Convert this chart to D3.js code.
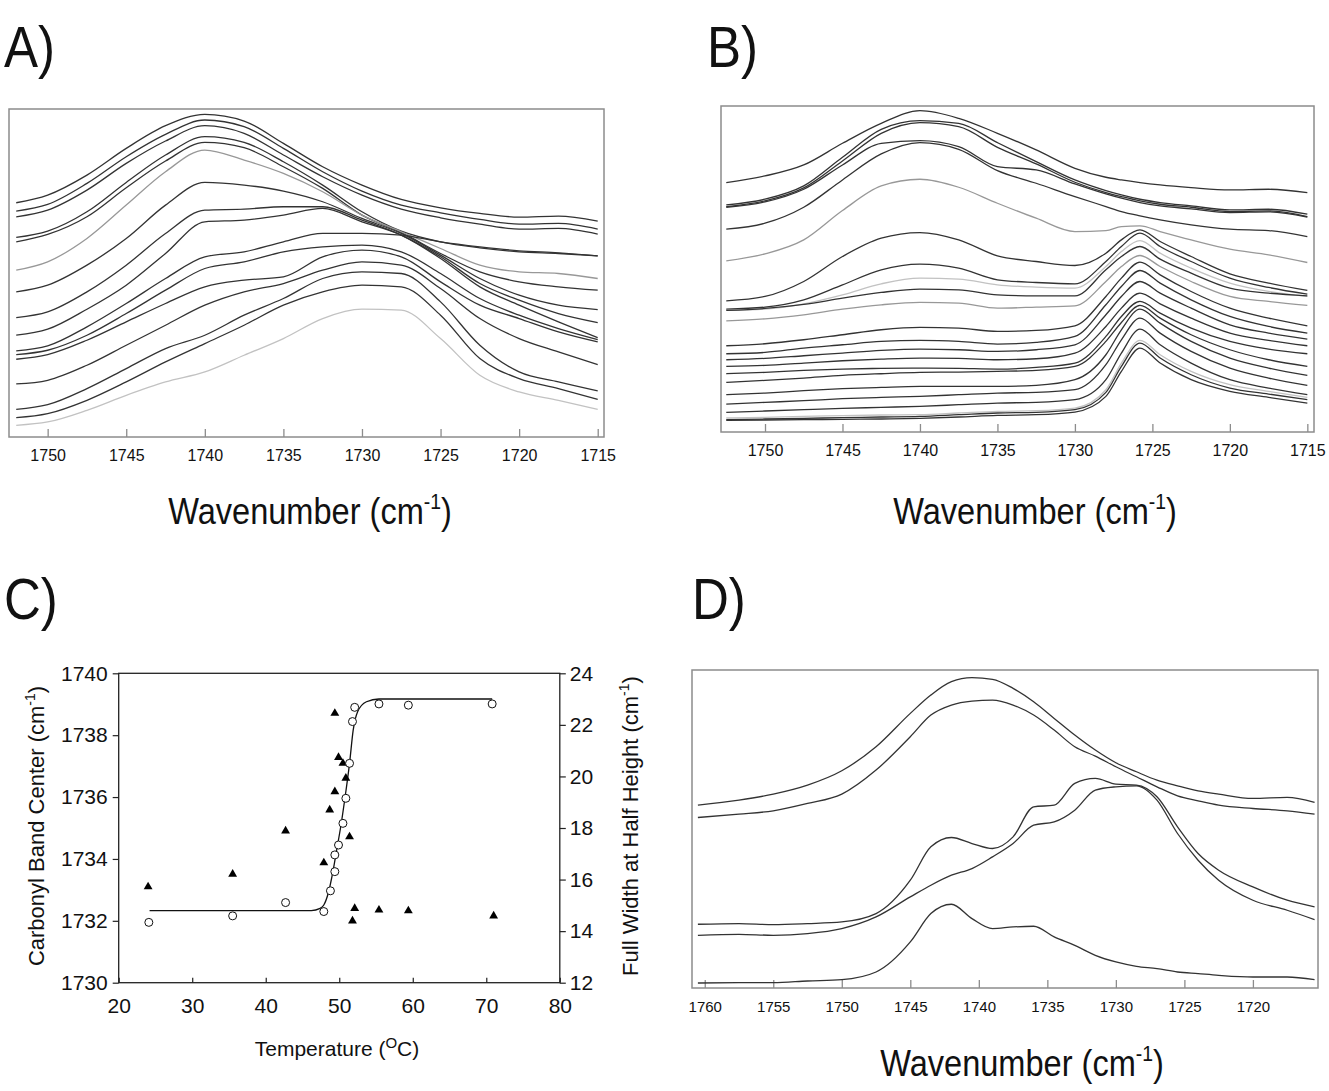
<!DOCTYPE html>
<html lang="en">
<head>
<meta charset="UTF-8">
<title>Carbonyl band FTIR spectra</title>
<style>
  body { margin: 0; background: #fff; }
  svg text { font-family: "Liberation Sans", Arial, sans-serif; fill: #111; }
  .frame { fill: none; stroke: #8c8c8c; stroke-width: 1.5; }
  .frameC { fill: none; stroke: #222; stroke-width: 1.3; }
  .spec { fill: none; stroke-width: 1.3; }
</style>
<script src="https://d3js.org/d3.v7.min.js"></script>
</head>
<body>
<script>
// ---- panel A : spectra, heating series ----
const wnA = [1752, 1750, 1747.5, 1745, 1742.5, 1740, 1737.5, 1735, 1732.5, 1730, 1727.5, 1725, 1722.5, 1720, 1717.5, 1715];
const absA = [
  [70.2, 72.5, 78.5, 86.5, 93.3, 96.7, 94.7, 88.0, 81.0, 75.5, 71.2, 68.7, 67.0, 65.9, 66.2, 64.7],
  [67.7, 69.7, 76.0, 84.0, 90.7, 95.0, 93.0, 86.5, 79.5, 73.7, 69.5, 67.2, 65.2, 63.8, 64.0, 62.3],
  [66.0, 68.0, 74.0, 82.0, 88.7, 93.3, 91.0, 84.5, 78.0, 72.5, 68.3, 65.7, 63.8, 62.3, 62.5, 60.8],
  [59.8, 61.7, 67.5, 76.3, 84.5, 90.0, 88.3, 82.5, 75.5, 67.5, 61.7, 58.5, 56.7, 55.5, 55.0, 54.3],
  [58.5, 60.7, 66.0, 74.7, 82.7, 88.3, 86.7, 81.0, 74.5, 66.5, 61.3, 55.0, 49.5, 46.5, 45.0, 44.0],
  [50.0, 52.5, 59.5, 69.5, 79.5, 86.0, 83.0, 79.0, 73.5, 66.5, 61.5, 56.5, 51.5, 49.5, 49.0, 47.5],
  [43.5, 45.5, 51.5, 59.5, 69.5, 76.3, 75.5, 73.7, 70.5, 65.5, 61.0, 54.5, 47.5, 42.5, 39.5, 38.2],
  [35.8, 37.5, 43.5, 51.5, 61.0, 68.0, 68.3, 69.0, 69.0, 65.0, 60.5, 54.0, 46.0, 41.0, 37.0, 34.3],
  [30.5, 32.3, 38.3, 45.5, 55.0, 64.5, 65.0, 66.5, 68.5, 64.5, 60.5, 53.5, 45.0, 39.5, 34.5, 29.8],
  [25.8, 27.3, 33.0, 40.0, 47.5, 54.0, 55.5, 58.5, 61.0, 61.0, 60.5, 58.5, 57.0, 55.8, 55.2, 54.3],
  [24.7, 26.0, 30.5, 37.0, 44.0, 50.5, 52.5, 55.5, 57.0, 57.5, 55.5, 49.0, 41.5, 36.5, 32.5, 29.2],
  [23.3, 24.7, 29.0, 34.5, 40.0, 45.0, 47.0, 48.0, 54.0, 56.0, 54.0, 46.5, 39.5, 35.5, 31.5, 28.5],
  [15.9, 17.0, 21.5, 27.5, 33.5, 39.5, 43.5, 46.0, 50.0, 52.5, 51.5, 44.5, 35.5, 29.5, 25.5, 21.7],
  [8.3, 9.7, 14.5, 20.5, 26.5, 30.5, 36.5, 41.5, 47.5, 49.5, 49.0, 40.5, 27.5, 19.5, 16.5, 13.8],
  [5.8, 7.0, 11.0, 16.5, 22.5, 28.0, 33.5, 39.5, 43.5, 45.5, 45.0, 36.5, 23.5, 17.5, 14.5, 11.3],
  [3.5, 4.5, 8.0, 12.5, 16.5, 19.5, 24.5, 29.5, 35.5, 38.3, 38.0, 29.5, 18.5, 13.5, 11.0, 8.3]
];
const greyA = [5];
const lightA = [15];
const ticksA = [1750, 1745, 1740, 1735, 1730, 1725, 1720, 1715];

// ---- panel B : spectra, second series ----
const wnB = [1752.5, 1750, 1747.5, 1745, 1742.5, 1740, 1737.5, 1735, 1732.5, 1730, 1728, 1727, 1725.8, 1724.5, 1722.5, 1720, 1717.5, 1715];
const absB = [
  [74.9, 76.9, 80.2, 86.7, 92.7, 96.5, 94.2, 89.7, 84.7, 79.2, 76.5, 75.7, 74.9, 74.2, 73.4, 72.7, 72.9, 71.9],
  [68.2, 69.9, 73.9, 82.5, 90.9, 93.5, 92.7, 86.9, 81.2, 75.7, 72.5, 71.2, 69.9, 68.9, 67.9, 66.7, 66.9, 65.4],
  [67.7, 69.4, 73.3, 81.4, 89.7, 92.9, 91.7, 85.5, 80.5, 75.0, 71.9, 70.7, 69.4, 68.4, 67.5, 66.2, 66.4, 64.7],
  [67.5, 69.1, 72.9, 80.2, 86.7, 87.5, 85.7, 79.7, 78.7, 74.5, 71.5, 70.2, 68.9, 67.9, 67.0, 65.9, 66.1, 64.5],
  [60.9, 62.7, 67.5, 75.7, 83.5, 86.9, 84.9, 78.5, 74.7, 70.7, 67.7, 66.2, 64.9, 63.7, 62.2, 60.9, 60.5, 58.7],
  [51.4, 53.5, 57.7, 66.5, 73.9, 75.9, 73.5, 68.7, 64.2, 60.2, 60.5, 61.7, 61.9, 60.2, 57.7, 54.9, 53.2, 50.9],
  [39.4, 40.7, 45.2, 52.7, 58.2, 59.9, 57.7, 52.9, 51.2, 50.0, 53.7, 57.7, 60.7, 57.2, 52.7, 47.5, 44.7, 42.5],
  [36.9, 37.5, 39.7, 44.2, 48.7, 50.4, 49.2, 45.7, 44.9, 44.5, 51.2, 55.7, 59.7, 55.7, 51.2, 46.2, 43.4, 41.4],
  [36.5, 36.9, 38.5, 41.2, 44.5, 46.2, 45.9, 44.2, 43.5, 43.2, 49.7, 54.2, 57.5, 53.7, 49.2, 44.7, 42.2, 40.7],
  [36.5, 37.1, 38.3, 40.2, 41.9, 42.9, 42.7, 41.2, 40.9, 40.9, 48.7, 52.7, 55.7, 51.9, 47.7, 43.2, 41.7, 40.9],
  [33.4, 34.0, 35.2, 36.9, 38.2, 38.9, 38.7, 37.2, 37.5, 37.9, 45.2, 49.7, 53.0, 49.7, 45.2, 40.7, 39.2, 38.0],
  [25.9, 26.5, 27.7, 29.2, 30.7, 31.4, 31.2, 30.2, 30.5, 31.9, 40.7, 46.2, 51.0, 47.2, 42.2, 37.2, 34.2, 31.9],
  [23.5, 23.9, 25.2, 26.2, 27.2, 27.5, 27.2, 26.4, 26.9, 28.7, 38.2, 43.7, 48.5, 44.7, 39.7, 34.7, 31.7, 29.7],
  [21.7, 22.1, 22.9, 23.7, 24.5, 24.9, 24.7, 24.2, 24.7, 26.2, 35.2, 40.7, 45.2, 41.7, 37.2, 32.2, 29.7, 27.9],
  [19.7, 20.0, 20.7, 21.4, 21.9, 22.2, 22.1, 21.7, 22.0, 23.7, 31.7, 37.2, 41.7, 38.5, 34.2, 29.7, 27.5, 25.9],
  [17.5, 17.9, 18.5, 18.9, 19.1, 19.2, 19.1, 18.9, 19.4, 20.7, 28.7, 34.7, 39.2, 35.7, 31.2, 27.2, 24.9, 23.5],
  [14.9, 15.5, 16.2, 17.0, 17.5, 17.9, 18.0, 18.2, 18.5, 19.7, 27.2, 32.9, 38.0, 34.2, 29.2, 24.7, 21.7, 19.7],
  [11.2, 11.7, 12.4, 13.0, 13.4, 13.7, 13.7, 13.7, 14.0, 15.7, 23.2, 30.7, 36.9, 32.7, 27.2, 22.2, 19.2, 17.0],
  [8.4, 8.9, 9.4, 10.0, 10.4, 10.7, 11.2, 11.7, 11.9, 12.7, 20.2, 27.7, 34.2, 29.7, 24.2, 19.2, 16.2, 14.0],
  [5.9, 6.3, 6.7, 7.1, 7.4, 7.7, 8.2, 8.7, 8.9, 9.7, 15.7, 23.7, 30.9, 26.2, 20.7, 15.7, 13.2, 11.2],
  [4.2, 4.4, 4.7, 4.9, 5.1, 5.2, 5.7, 6.2, 6.4, 7.2, 12.7, 20.7, 27.5, 23.2, 18.2, 14.2, 12.2, 10.4],
  [3.7, 3.9, 4.1, 4.3, 4.5, 4.7, 5.2, 5.7, 5.9, 6.7, 11.9, 19.7, 26.7, 22.2, 17.2, 13.2, 11.4, 9.7],
  [3.5, 3.6, 3.7, 3.8, 3.9, 4.1, 4.5, 5.0, 5.2, 6.0, 10.7, 18.2, 25.2, 20.7, 15.7, 12.2, 10.4, 8.7]
];
const greyB = [5, 10];
const lightB = [8, 20];
const ticksB = [1750, 1745, 1740, 1735, 1730, 1725, 1720, 1715];

// ---- panel C : band centre and width vs temperature ----
const circT = [24.1, 35.5, 42.7, 47.9, 48.8, 49.4, 49.4, 49.9, 50.5, 50.9, 51.4, 51.8, 52.1, 55.4, 59.4, 70.8];
const circCenter = [1731.95, 1732.16, 1732.59, 1732.3, 1732.97, 1733.59, 1734.13, 1734.45, 1735.15, 1735.96, 1737.09, 1738.44, 1738.9, 1739.01, 1738.97, 1739.01];
const triT = [24.0, 35.5, 42.7, 47.9, 48.7, 49.4, 49.4, 49.9, 50.5, 50.9, 51.4, 52.1, 51.8, 55.4, 59.4, 71.0];
const triWidth = [15.72, 16.21, 17.89, 16.65, 18.70, 19.41, 22.45, 20.74, 20.51, 19.93, 17.66, 14.88, 14.40, 14.82, 14.79, 14.59];
const fitT = [24.2, 46.2, 47.4, 47.9, 48.5, 49.1, 49.65, 50.2, 50.8, 51.4, 51.9, 52.5, 53.7, 55.4, 70.8];
const fitCenter = [1732.33, 1732.33, 1732.40, 1732.51, 1732.89, 1733.54, 1734.29, 1735.04, 1736.01, 1737.09, 1738.17, 1738.76, 1739.08, 1739.17, 1739.17];
const ticksTemp = [20, 30, 40, 50, 60, 70, 80];
const ticksCenter = [1730, 1732, 1734, 1736, 1738, 1740];
const ticksWidth = [12, 14, 16, 18, 20, 22, 24];

// ---- panel D : selected spectra ----
const wnD = [1760.5, 1757.5, 1755, 1752.5, 1750, 1747.5, 1745, 1743.5, 1742, 1740.5, 1739, 1737.5, 1736, 1734.5, 1733, 1731.5, 1730, 1728.5, 1727, 1725.5, 1724, 1722.5, 1720, 1717.5, 1715.5];
const absD = [
  [54.8, 56.3, 58.1, 60.8, 65.1, 72.3, 82.3, 87.8, 91.8, 93.0, 92.5, 89.8, 85.8, 80.8, 75.8, 71.3, 67.5, 64.8, 62.3, 60.6, 59.1, 58.1, 56.8, 57.1, 55.6],
  [51.1, 52.1, 53.1, 55.3, 58.1, 65.3, 75.3, 81.8, 84.8, 86.0, 86.3, 84.8, 81.8, 77.3, 72.3, 69.5, 66.3, 63.3, 60.3, 57.6, 56.1, 54.8, 53.8, 53.1, 52.1],
  [19.1, 19.3, 19.0, 19.3, 19.8, 22.3, 32.3, 42.3, 45.1, 43.3, 41.8, 45.3, 54.3, 54.8, 61.3, 62.8, 61.1, 60.8, 57.3, 48.3, 40.3, 35.3, 30.3, 26.3, 24.3],
  [15.8, 16.1, 15.8, 16.3, 17.8, 21.3, 27.3, 30.8, 33.8, 35.8, 39.3, 43.3, 48.8, 49.8, 53.3, 59.3, 60.3, 60.6, 56.3, 46.3, 38.3, 32.3, 26.3, 23.3, 20.5],
  [1.5, 1.6, 1.6, 2.1, 2.5, 4.8, 13.8, 22.3, 25.1, 20.8, 17.8, 18.3, 18.5, 15.3, 12.8, 9.8, 7.8, 6.5, 5.8, 4.8, 4.3, 3.8, 3.3, 3.3, 2.5]
];
const ticksD = [1760, 1755, 1750, 1745, 1740, 1735, 1730, 1725, 1720];

const FONT = "Liberation Sans, Arial, sans-serif";
const svg = d3.select("body").append("svg")
  .attr("width", 1329)
  .attr("height", 1091);

function wavenumberLabel(cx, y) {
  const t = svg.append("text")
    .attr("transform", `translate(${cx},${y}) scale(0.88,1)`)
    .attr("text-anchor", "middle")
    .attr("font-size", 37);
  t.append("tspan").text("Wavenumber (cm");
  t.append("tspan").attr("font-size", 22).attr("dy", -15).text("-1");
  t.append("tspan").attr("dy", 15).text(")");
}

function panelLetter(x, y, s) {
  svg.append("text")
    .attr("transform", `translate(${x},${y}) scale(0.88,1)`)
    .attr("font-size", 58)
    .text(s);
}

function spectraPanel(cfg) {
  const x = d3.scaleLinear().domain(cfg.xDomain).range([cfg.left, cfg.right]);
  const y = d3.scaleLinear().domain(cfg.yDomain).range([cfg.bottom, cfg.top]);

  const ax = svg.append("g")
    .attr("transform", `translate(0,${cfg.bottom})`)
    .call(d3.axisBottom(x)
      .tickValues(cfg.ticks)
      .tickSize(-8)
      .tickSizeOuter(0)
      .tickPadding(cfg.pad)
      .tickFormat(d3.format("d")));
  ax.attr("font-family", FONT).attr("font-size", cfg.fs);
  ax.select(".domain").remove();
  ax.selectAll(".tick line").attr("stroke", "#8c8c8c").attr("stroke-width", 1.3);
  ax.selectAll(".tick text").attr("fill", "#111");

  const line = d3.line()
    .x((d, i) => x(cfg.wn[i]))
    .y(d => y(d))
    .curve(d3.curveMonotoneX);

  // colour of each trace: dark, mid grey or light grey
  const tone = i => cfg.light.includes(i) ? "#c2c2c2" : cfg.grey.includes(i) ? "#989898" : "#333";

  svg.append("g")
    .selectAll("path")
    .data(cfg.data)
    .join("path")
    .attr("class", "spec")
    .style("stroke", (d, i) => tone(i))
    .attr("d", line);

  svg.append("rect")
    .attr("class", "frame")
    .attr("x", cfg.left).attr("y", cfg.top)
    .attr("width", cfg.right - cfg.left)
    .attr("height", cfg.bottom - cfg.top);
}

// A
panelLetter(4, 67, "A)");
spectraPanel({
  wn: wnA, data: absA, grey: greyA, light: lightA, ticks: ticksA,
  xDomain: [1752.46, 1714.6], yDomain: [0, 98.3],
  left: 9, right: 604, top: 109, bottom: 437, pad: 13, fs: 16
});
wavenumberLabel(310, 524);

// B
panelLetter(707, 67, "B)");
spectraPanel({
  wn: wnB, data: absB, grey: greyB, light: lightB, ticks: ticksB,
  xDomain: [1752.84, 1714.57], yDomain: [0, 97.9],
  left: 721, right: 1314, top: 106, bottom: 432, pad: 13, fs: 16
});
wavenumberLabel(1035, 524);

// D
panelLetter(692, 619, "D)");
spectraPanel({
  wn: wnD, data: absD, grey: [], light: [], ticks: ticksD,
  xDomain: [1760.93, 1715.25], yDomain: [0, 95.3],
  left: 692, right: 1318, top: 670, bottom: 988, pad: 13, fs: 15
});
wavenumberLabel(1022, 1076);

// C
panelLetter(4, 619, "C)");
(function () {
  const L = 118.7, R = 559.8, T = 673.3, B = 982.7;
  const x = d3.scaleLinear().domain([20, 80]).range([L, R]);
  const yL = d3.scaleLinear().domain([1730, 1740]).range([B, T]);
  const yR = d3.scaleLinear().domain([12, 24]).range([B, T]);

  const styleAxis = g => {
    g.attr("font-family", FONT).attr("font-size", 21);
    g.select(".domain").remove();
    g.selectAll(".tick line").attr("stroke", "#222").attr("stroke-width", 1.2);
    g.selectAll(".tick text").attr("fill", "#111");
  };

  svg.append("g").attr("transform", `translate(0,${B})`)
    .call(d3.axisBottom(x).tickValues(ticksTemp).tickSize(-5).tickSizeOuter(0).tickPadding(15))
    .call(styleAxis);
  svg.append("g").attr("transform", `translate(${L},0)`)
    .call(d3.axisLeft(yL).tickValues(ticksCenter).tickSize(6).tickSizeOuter(0).tickPadding(5).tickFormat(d3.format("d")))
    .call(styleAxis);
  svg.append("g").attr("transform", `translate(${R},0)`)
    .call(d3.axisRight(yR).tickValues(ticksWidth).tickSize(6).tickSizeOuter(0).tickPadding(4))
    .call(styleAxis);

  svg.append("rect").attr("class", "frameC")
    .attr("x", L).attr("y", T).attr("width", R - L).attr("height", B - T);

  const fit = d3.line()
    .x((d, i) => x(fitT[i]))
    .y(d => yL(d))
    .curve(d3.curveMonotoneX);
  svg.append("path")
    .attr("d", fit(fitCenter))
    .attr("fill", "none").attr("stroke", "#111").attr("stroke-width", 1.3);

  svg.append("g").selectAll("path")
    .data(triWidth)
    .join("path")
    .attr("transform", (d, i) => `translate(${x(triT[i])},${yR(d)})`)
    .attr("d", d3.symbol(d3.symbolTriangle).size(34))
    .attr("fill", "#000");

  svg.append("g").selectAll("circle")
    .data(circCenter)
    .join("circle")
    .attr("cx", (d, i) => x(circT[i]))
    .attr("cy", d => yL(d))
    .attr("r", 4)
    .attr("fill", "#fff")
    .attr("stroke", "#111")
    .attr("stroke-width", 1);

  // axis titles
  const yl = svg.append("text")
    .attr("transform", `translate(44,826) rotate(-90)`)
    .attr("text-anchor", "middle")
    .attr("font-size", 22);
  yl.append("tspan").text("Carbonyl Band Center (cm");
  yl.append("tspan").attr("font-size", 14).attr("dy", -9).text("-1");
  yl.append("tspan").attr("dy", 9).text(")");

  const yr = svg.append("text")
    .attr("transform", `translate(638,826) rotate(-90)`)
    .attr("text-anchor", "middle")
    .attr("font-size", 22);
  yr.append("tspan").text("Full Width at Half Height (cm");
  yr.append("tspan").attr("font-size", 14).attr("dy", -9).text("-1");
  yr.append("tspan").attr("dy", 9).text(")");

  const xl = svg.append("text")
    .attr("x", 337).attr("y", 1056)
    .attr("text-anchor", "middle")
    .attr("font-size", 21);
  xl.append("tspan").text("Temperature (");
  xl.append("tspan").attr("font-size", 15).attr("dy", -8).text("O");
  xl.append("tspan").attr("dy", 8).text("C)");
})();
</script>
</body>
</html>
